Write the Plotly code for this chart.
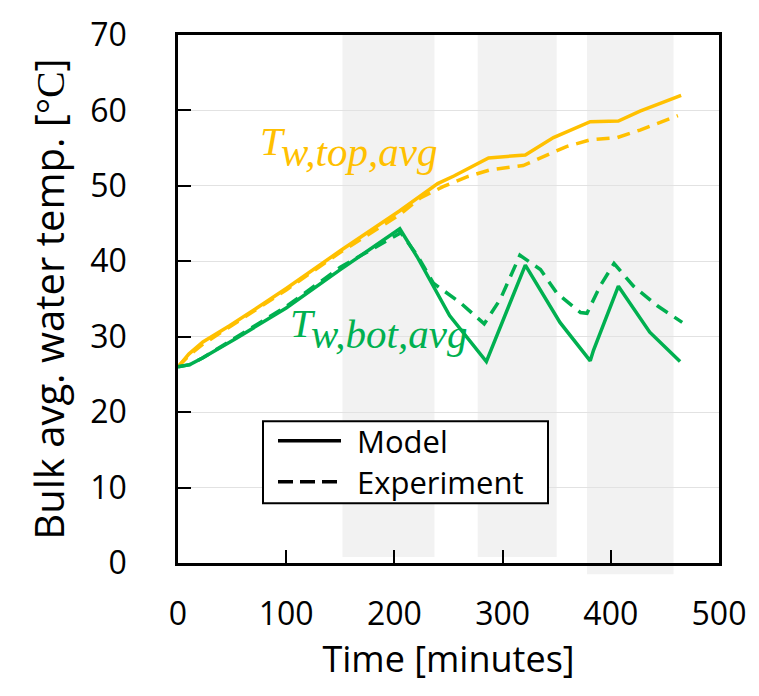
import plotly.graph_objects as go

# ---------------- data ----------------
t_top_model = [0, 10, 23, 48, 76, 100, 150, 205, 240, 255, 287, 321, 347, 381, 407, 427, 465]
top_model = [26.0, 27.7, 29.3, 31.5, 34.1, 36.4, 41.4, 46.7, 50.3, 51.3, 53.7, 54.1, 56.4, 58.5, 58.6, 59.9, 62.0]

t_top_exp = [0, 10, 23, 48, 100, 150, 205, 224, 245, 267, 288, 319, 335, 359, 381, 406, 427, 462]
top_exp = [26.0, 27.5, 29.0, 31.3, 36.2, 41.2, 46.2, 48.4, 49.9, 51.2, 52.1, 52.7, 53.7, 55.2, 56.1, 56.4, 57.4, 59.3]

t_bot_model = [0, 11, 23, 54, 100, 150, 205, 221, 251, 285, 321, 353, 381, 384, 407, 436, 464]
bot_model = [26.0, 26.3, 27.2, 29.8, 33.8, 38.9, 44.3, 40.6, 32.8, 26.7, 39.5, 31.9, 26.8, 28.2, 36.7, 30.6, 26.7]

t_bot_exp = [0, 11, 23, 54, 100, 150, 206, 221, 236, 261, 283, 298, 316, 335, 350, 372, 378, 390, 403, 421, 443, 466]
bot_exp = [26.0, 26.3, 27.2, 29.9, 34.0, 39.2, 43.8, 40.8, 37.1, 34.5, 31.7, 35.0, 40.8, 38.9, 35.8, 33.2, 33.1, 36.7, 39.7, 36.7, 34.1, 31.9]

# shaded periods (minutes) and their lower edge (degC)
shade_start = [152, 277, 378]
shade_end = [237, 350, 458]
shade_bottom = [0.8, 0.8, -1.5]

x_ticks = [0, 100, 200, 300, 400, 500]
y_ticks = [0, 10, 20, 30, 40, 50, 60, 70]

legend_names = ["Model", "Experiment"]
label_main = ["T", "T"]
label_sub = ["w,top,avg", "w,bot,avg"]
label_x = [99, 126.5]     # minutes (junction of T and its subscript)
label_y = [55.9, 31.8]    # degC

ORANGE = "#FFC000"
GREEN = "#00B050"
DASH = "13px,8px"
X_RANGE = [0, 500]
Y_RANGE = [0, 70]
FONT = "Open Sans"

fig = go.Figure()

fig.add_trace(go.Scatter(x=t_top_model, y=top_model, mode="lines", name="Model",
                         line=dict(color=ORANGE, width=3.5), showlegend=False))
fig.add_trace(go.Scatter(x=t_top_exp, y=top_exp, mode="lines", name="Experiment",
                         line=dict(color=ORANGE, width=3.5, dash=DASH), showlegend=False))
fig.add_trace(go.Scatter(x=t_bot_model, y=bot_model, mode="lines", name="Model",
                         line=dict(color=GREEN, width=3.5), showlegend=False))
fig.add_trace(go.Scatter(x=t_bot_exp, y=bot_exp, mode="lines", name="Experiment",
                         line=dict(color=GREEN, width=3.5, dash=DASH), showlegend=False))

# shaded regions (paper coords so the last can extend below the axis)
for s, e, b in zip(shade_start, shade_end, shade_bottom):
    fig.add_shape(type="rect", xref="paper", yref="paper",
                  x0=(s - X_RANGE[0]) / (X_RANGE[1] - X_RANGE[0]),
                  x1=(e - X_RANGE[0]) / (X_RANGE[1] - X_RANGE[0]),
                  y0=(b - Y_RANGE[0]) / (Y_RANGE[1] - Y_RANGE[0]), y1=1,
                  fillcolor="#F2F2F2", line=dict(width=0), layer="below")

# ---- legend box (drawn by hand so the key lines are long, as in the original) ----
PW, PH, L, B = 541.0, 540.0, 178.0, 563.0
def px(x):
    return (x - L) / PW
def py(y):
    return (B - y) / PH

fig.add_shape(type="rect", xref="paper", yref="paper",
              x0=px(263), x1=px(548), y0=py(502), y1=py(418),
              fillcolor="white", line=dict(color="black", width=2), layer="above")
for name, yy, dash in zip(legend_names, [438, 480], ["solid", "15px,7px"]):
    fig.add_shape(type="line", xref="paper", yref="paper",
                  x0=px(278), x1=px(341), y0=py(yy), y1=py(yy),
                  line=dict(color="black", width=3.5, dash=dash), layer="above")
    fig.add_annotation(x=px(355), y=py(yy), xref="paper", yref="paper", text=name,
                       showarrow=False, xanchor="left", yanchor="middle",
                       font=dict(family=FONT, size=31, color="black"))

# series labels: italic T with a full-size, lowered subscript
lab_font = dict(family="Liberation Serif", size=41)
for m, s, xx, yy, col in zip(label_main, label_sub, label_x, label_y, [ORANGE, GREEN]):
    fig.add_annotation(x=xx, y=yy, xref="x", yref="y", text=f"<i>{m}</i>", showarrow=False,
                       xanchor="right", yanchor="middle", xshift=2, borderpad=0,
                       font=dict(color=col, **lab_font))
    fig.add_annotation(x=xx, y=yy, xref="x", yref="y", text=f"<i>{s}</i>", showarrow=False,
                       xanchor="left", yanchor="middle", xshift=-5, yshift=-11, borderpad=0,
                       font=dict(color=col, **lab_font))

axis_common = dict(showline=True, linecolor="black", linewidth=2.5, mirror=True,
                   ticks="inside", tickcolor="black", tickwidth=2, ticklen=13,
                   tickfont=dict(family=FONT, size=32, color="black"), zeroline=False)

fig.update_xaxes(range=X_RANGE, tickvals=x_ticks, showgrid=False, ticklabelstandoff=21,
                 title=dict(text="Time [minutes]", font=dict(family=FONT, size=36, color="black"),
                            standoff=8),
                 **axis_common)
fig.update_yaxes(range=Y_RANGE, tickvals=y_ticks, showgrid=True, gridcolor="#E2E2E2", gridwidth=1,
                 ticklabelstandoff=42,
                 title=dict(text="Bulk avg. water temp. [<span style='font-family:Liberation Serif'>°C</span>]",
                            font=dict(family=FONT, size=40, color="black"), standoff=14),
                 **axis_common)

fig.update_layout(
    width=759, height=696,
    margin=dict(l=178, r=40, t=23, b=133),
    plot_bgcolor="white", paper_bgcolor="white",
    showlegend=False,
)

fig.write_html("out.html")
